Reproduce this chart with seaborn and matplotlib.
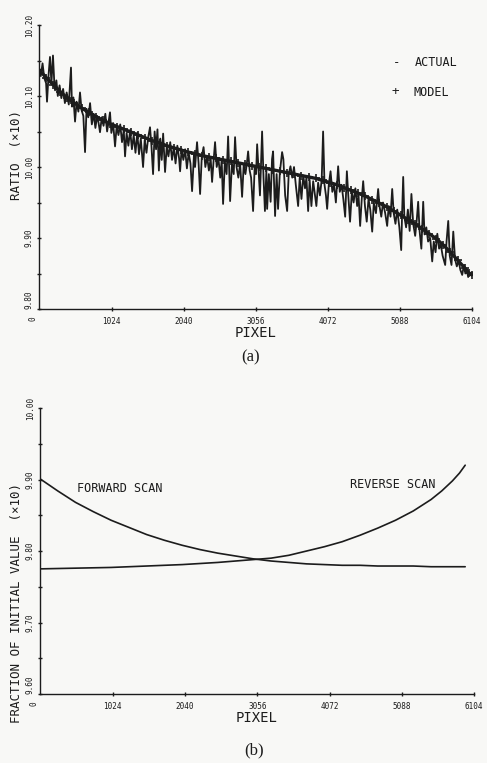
import matplotlib
matplotlib.use("Agg")
import matplotlib.pyplot as plt
from matplotlib.ticker import FixedLocator, FormatStrFormatter
import pandas as pd
import seaborn as sns

# ---------------- panel (a): measured ratio vs. model ----------------
actual_pixel = [
    0, 25, 50, 75, 100, 113, 135, 155, 175, 197, 215, 226, 245, 265, 290, 315, 340, 365, 390, 420,
    451, 465, 485, 508, 530, 555, 578, 600, 625, 649, 670, 695, 720, 745, 770, 795, 820, 840, 860, 885,
    910, 935, 960, 985, 1001, 1020, 1045, 1072, 1095, 1120, 1145, 1170, 1195, 1213, 1235, 1260, 1285, 1310, 1335, 1360,
    1385, 1410, 1435, 1467, 1490, 1515, 1540, 1565, 1585, 1608, 1630, 1650, 1670, 1690, 1710, 1730, 1750, 1777, 1800, 1825,
    1850, 1875, 1900, 1925, 1950, 1975, 1989, 2010, 2035, 2060, 2085, 2110, 2135, 2158, 2185, 2200, 2228, 2250, 2271, 2295,
    2320, 2345, 2370, 2395, 2420, 2440, 2462, 2482, 2505, 2530, 2555, 2575, 2595, 2620, 2645, 2666, 2680, 2694, 2720, 2745,
    2764, 2785, 2810, 2835, 2863, 2885, 2910, 2930, 2948, 2970, 2990, 3018, 3040, 3060, 3075, 3095, 3115, 3145, 3165, 3185,
    3205, 3216, 3240, 3265, 3285, 3300, 3328, 3350, 3370, 3395, 3427, 3445, 3470, 3498, 3520, 3545, 3570, 3595, 3620, 3653,
    3675, 3700, 3725, 3750, 3770, 3794, 3815, 3840, 3865, 3890, 3910, 3935, 3960, 3985, 4005, 4025, 4045, 4062, 4085, 4110,
    4135, 4160, 4185, 4217, 4240, 4265, 4290, 4316, 4340, 4360, 4385, 4410, 4435, 4460, 4485, 4505, 4527, 4550, 4570, 4595,
    4620, 4645, 4670, 4697, 4720, 4750, 4781, 4800, 4825, 4850, 4880, 4908, 4930, 4955, 4979, 5000, 5025, 5050, 5080, 5106,
    5120, 5134, 5150, 5175, 5200, 5225, 5250, 5275, 5303, 5325, 5345, 5365, 5390, 5416, 5435, 5460, 5485, 5515, 5543, 5565,
    5590, 5615, 5640, 5665, 5690, 5726, 5745, 5769, 5790, 5815, 5840, 5865, 5890, 5915, 5940, 5966, 5990, 6010, 6030, 6050,
]
actual_ratio = [
    10.140, 10.128, 10.146, 10.125, 10.118, 10.092, 10.130, 10.155, 10.118, 10.157, 10.120, 10.108, 10.122, 10.100, 10.115, 10.097, 10.110, 10.090, 10.105, 10.088,
    10.140, 10.085, 10.098, 10.064, 10.092, 10.078, 10.105, 10.080, 10.072, 10.021, 10.082, 10.070, 10.090, 10.060, 10.075, 10.055, 10.072, 10.062, 10.049, 10.070,
    10.058, 10.075, 10.050, 10.066, 10.077, 10.048, 10.062, 10.029, 10.058, 10.045, 10.060, 10.035, 10.052, 10.015, 10.048, 10.030, 10.052, 10.025, 10.045, 10.020,
    10.048, 10.018, 10.040, 10.000, 10.038, 10.020, 10.042, 10.056, 10.030, 9.990, 10.050, 10.025, 10.053, 9.995, 10.040, 10.010, 10.047, 9.993, 10.028, 10.015,
    10.035, 10.010, 10.028, 10.005, 10.030, 10.012, 9.994, 10.025, 10.010, 10.025, 9.998, 10.020, 10.005, 9.966, 10.018, 10.000, 10.035, 10.005, 9.962, 10.015,
    10.028, 10.000, 10.015, 9.995, 10.012, 9.979, 10.010, 10.035, 10.000, 10.012, 9.985, 10.010, 9.948, 10.008, 9.990, 10.043, 10.000, 9.952, 10.005, 9.990,
    10.042, 10.000, 9.985, 10.005, 9.958, 10.002, 9.990, 10.005, 10.022, 9.995, 9.985, 9.938, 10.000, 9.990, 10.032, 9.995, 9.960, 10.050, 9.985, 9.938,
    9.995, 9.941, 9.990, 9.951, 10.011, 10.022, 9.931, 9.990, 9.941, 9.992, 10.021, 10.011, 9.960, 9.938, 9.990, 10.001, 9.985, 10.000, 9.975, 9.945,
    9.985, 9.955, 9.988, 9.970, 9.985, 9.938, 9.982, 9.945, 9.980, 9.960, 9.945, 9.978, 9.960, 9.982, 10.050, 9.975, 9.960, 9.941, 9.975, 9.994,
    9.965, 9.975, 9.950, 10.001, 9.965, 9.975, 9.955, 9.930, 9.994, 9.960, 9.923, 9.965, 9.950, 9.970, 9.945, 9.960, 9.917, 9.955, 9.980, 9.945,
    9.923, 9.955, 9.940, 9.909, 9.950, 9.935, 9.969, 9.945, 9.930, 9.950, 9.935, 9.917, 9.945, 9.930, 9.969, 9.935, 9.920, 9.940, 9.915, 9.883,
    9.940, 9.986, 9.930, 9.915, 9.940, 9.910, 9.962, 9.920, 9.903, 9.925, 9.951, 9.910, 9.885, 9.951, 9.905, 9.915, 9.895, 9.900, 9.867, 9.895,
    9.880, 9.906, 9.885, 9.890, 9.875, 9.862, 9.895, 9.924, 9.875, 9.862, 9.909, 9.870, 9.860, 9.868, 9.855, 9.848, 9.862, 9.850, 9.855, 9.845,
]

model_pixel = [
    0, 100, 200, 300, 400, 500, 600, 700, 800, 900, 1000, 1100, 1200, 1300, 1400, 1500, 1600, 1700, 1800, 1900,
    2000, 2100, 2200, 2300, 2400, 2500, 2600, 2700, 2800, 2900, 3000, 3100, 3200, 3300, 3400, 3500, 3600, 3700, 3800, 3900,
    4000, 4100, 4200, 4300, 4400, 4500, 4600, 4700, 4800, 4900, 5000, 5100, 5200, 5300, 5400, 5500, 5600, 5700, 5800, 5900,
    6000, 6060, 6100,
]
model_ratio = [
    10.137, 10.126, 10.116, 10.106, 10.097, 10.090, 10.083, 10.077, 10.071, 10.066, 10.061, 10.057, 10.053, 10.049, 10.045, 10.041, 10.037, 10.034, 10.030, 10.027,
    10.024, 10.021, 10.019, 10.016, 10.014, 10.012, 10.010, 10.008, 10.006, 10.004, 10.002, 10.000, 9.998, 9.996, 9.994, 9.992, 9.990, 9.988, 9.986, 9.984,
    9.981, 9.978, 9.975, 9.971, 9.967, 9.963, 9.959, 9.954, 9.949, 9.944, 9.938, 9.932, 9.926, 9.920, 9.913, 9.906, 9.899, 9.890, 9.880, 9.869,
    9.858, 9.851, 9.848,
]

# ---------------- panel (b): scan decay curves ----------------
forward_pixel = [0, 250, 500, 750, 1000, 1250, 1500, 1750, 2000, 2250, 2500, 2750, 3000, 3250, 3500,
                 3750, 4000, 4250, 4500, 4750, 5000, 5250, 5500, 5750, 5980]
forward_frac = [9.901, 9.884, 9.868, 9.855, 9.843, 9.833, 9.823, 9.815, 9.808, 9.802, 9.797, 9.793, 9.789, 9.786, 9.784,
                9.782, 9.781, 9.780, 9.780, 9.779, 9.779, 9.779, 9.778, 9.778, 9.778]

reverse_pixel = [0, 500, 1000, 1500, 2000, 2500, 3000, 3250, 3500, 3750, 4000, 4250, 4500, 4750,
                 5000, 5250, 5500, 5650, 5800, 5900, 5980]
reverse_frac = [9.775, 9.776, 9.777, 9.779, 9.781, 9.784, 9.788, 9.790, 9.794, 9.800, 9.806, 9.813, 9.822, 9.832,
                9.843, 9.856, 9.872, 9.884, 9.898, 9.909, 9.920]

pixel_ticks = [1024, 2040, 3056, 4072, 5088, 6104]
ratio_ticks = [9.80, 9.90, 10.00, 10.10, 10.20]
frac_ticks = [9.60, 9.70, 9.80, 9.90, 10.00]

sns.set_theme(style="ticks")
plt.rcParams["font.family"] = ["DejaVu Sans Mono", "DejaVu Sans"]
INK = "#1c1c1c"
PAPER = "#f8f8f6"

fig = plt.figure(figsize=(4.87, 7.63), dpi=100, facecolor=PAPER)
ax1 = fig.add_axes([39 / 487, 1 - 309 / 763, 433 / 487, 284 / 763])
ax2 = fig.add_axes([40 / 487, 1 - 694 / 763, 434 / 487, 286 / 763])

df_act = pd.DataFrame({"pixel": actual_pixel, "ratio": actual_ratio})
df_mod = pd.DataFrame({"pixel": model_pixel, "ratio": model_ratio})
sns.lineplot(data=df_act, x="pixel", y="ratio", ax=ax1, color=INK, linewidth=1.3,
             estimator=None, sort=False)
# model: dense '+' symbols that merge into a heavy band
sns.lineplot(data=df_mod, x="pixel", y="ratio", ax=ax1, color=INK, linewidth=2.4,
             estimator=None)
sns.scatterplot(data=df_mod, x="pixel", y="ratio", ax=ax1, marker="+", s=30,
                color=INK, linewidth=1.2)

df_fwd = pd.DataFrame({"pixel": forward_pixel, "frac": forward_frac})
df_rev = pd.DataFrame({"pixel": reverse_pixel, "frac": reverse_frac})
sns.lineplot(data=df_fwd, x="pixel", y="frac", ax=ax2, color=INK, linewidth=1.2, estimator=None)
sns.lineplot(data=df_rev, x="pixel", y="frac", ax=ax2, color=INK, linewidth=1.2, estimator=None)


def style_axis(ax, yticks, ylabel, ylab_pos):
    ax.set_facecolor("none")
    ax.set_xlim(0, 6104)
    ax.set_ylim(yticks[0], yticks[-1])
    for side in ("top", "right"):
        ax.spines[side].set_visible(False)
    for side in ("left", "bottom"):
        ax.spines[side].set_color(INK)
        ax.spines[side].set_linewidth(1.0)
    ax.xaxis.set_major_locator(FixedLocator(pixel_ticks))
    ax.set_xticklabels([str(t) for t in pixel_ticks])
    ax.yaxis.set_major_locator(FixedLocator(yticks))
    ax.yaxis.set_major_formatter(FormatStrFormatter("%.2f"))
    ax.yaxis.set_minor_locator(FixedLocator([t + 0.05 for t in yticks[:-1]]))
    ax.tick_params(axis="x", direction="inout", length=3.5, width=1.0, color=INK,
                   labelsize=5.5, pad=4, labelcolor=INK)
    ax.tick_params(axis="y", which="both", direction="inout", length=3.5, width=1.0,
                   color=INK, labelsize=5.5, pad=2, labelrotation=90, labelcolor=INK)
    labels = ax.get_yticklabels()
    for lab in labels:
        lab.set_va("center")
    labels[0].set_va("bottom")
    ax.set_xlabel("PIXEL", fontsize=10, color=INK, labelpad=0)
    ax.set_ylabel(ylabel, fontsize=9, color=INK)
    ax.yaxis.set_label_coords(*ylab_pos)
    ax.text(-0.014, -0.035, "0", transform=ax.transAxes, rotation=90,
            fontsize=5.5, color=INK, ha="center", va="center")


style_axis(ax1, ratio_ticks, "RATIO  (\u00d710)", (-0.036, 0.542))
style_axis(ax2, frac_ticks, "FRACTION OF INITIAL VALUE  (\u00d710)", (-0.039, 0.318))

# legend of panel (a)
fig.text(397 / 487, 1 - 63 / 763, "-", fontsize=9, color=INK, ha="center", va="center")
fig.text(415 / 487, 1 - 63 / 763, "ACTUAL", fontsize=8.5, color=INK, ha="left", va="center")
fig.text(395 / 487, 1 - 92 / 763, "+", fontsize=9, color=INK, ha="center", va="center")
fig.text(414 / 487, 1 - 92 / 763, "MODEL", fontsize=8.5, color=INK, ha="left", va="center")

# curve annotations of panel (b)
fig.text(77 / 487, 1 - 488 / 763, "FORWARD SCAN", fontsize=8.5, color=INK, ha="left", va="center")
fig.text(350 / 487, 1 - 484 / 763, "REVERSE SCAN", fontsize=8.5, color=INK, ha="left", va="center")

serif = ["Liberation Serif", "DejaVu Serif"]
fig.text(251 / 487, 1 - 357 / 763, "(a)", fontsize=12, color=INK, ha="center", va="center", family=serif)
fig.text(254 / 487, 1 - 750 / 763, "(b)", fontsize=12, color=INK, ha="center", va="center", family=serif)

fig.savefig("out.png", dpi=100, facecolor=PAPER)
